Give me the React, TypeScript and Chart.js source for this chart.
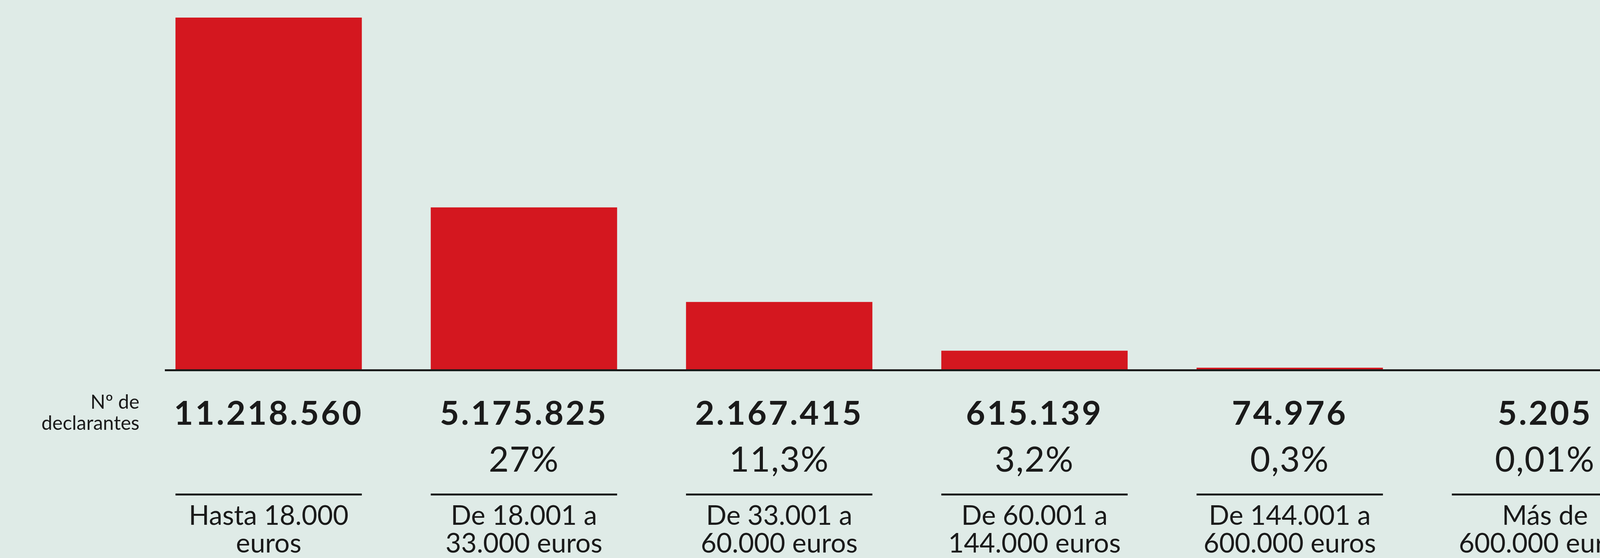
import React, { useEffect, useRef } from "react";
import { Chart, registerables } from "chart.js";

Chart.register(...registerables);

const categories: string[][] = [
  ["Hasta 18.000", "euros"],
  ["De 18.001 a", "33.000 euros"],
  ["De 33.001 a", "60.000 euros"],
  ["De 60.001 a", "144.000 euros"],
  ["De 144.001 a", "600.000 euros"],
  ["Más de", "600.000 euros"],
];
const declarantes: number[] = [11218560, 5175825, 2167415, 615139, 74976, 5205];
const countLabels: string[] = ["11.218.560", "5.175.825", "2.167.415", "615.139", "74.976", "5.205"];
const percentLabels: string[] = ["", "27%", "11,3%", "3,2%", "0,3%", "0,01%"];
const rowLabel: string[] = ["Nº de", "declarantes"];

const BG = "#dfebe7";
const RED = "#d4171f";
const INK = "#1a1a1a";

const annotate = {
  id: "annotate",
  afterDraw(chart: any) {
    const ctx = chart.ctx as CanvasRenderingContext2D;
    const xs = chart.scales.x;
    const ys = chart.scales.y;
    const meta = chart.getDatasetMeta(0);
    const y0 = ys.getPixelForValue(0);
    ctx.save();
    ctx.fillStyle = INK;
    ctx.fillRect(422, y0 - 2, chart.width - 422, 5);
    ctx.font = "50px Lato";
    ctx.textAlign = "right";
    ctx.textBaseline = "alphabetic";
    ctx.fillText(rowLabel[0], 357, 1046);
    ctx.fillText(rowLabel[1], 357, 1100);
    for (let i = 0; i < declarantes.length; i++) {
      const x = xs.getPixelForValue(i);
      const bar = meta.data[i] as any;
      const half = bar.width / 2;
      ctx.textAlign = "center";
      (ctx as any).letterSpacing = "5px";
      ctx.font = "bold 85px Lato";
      ctx.fillText(countLabels[i], x, 1087);
      (ctx as any).letterSpacing = "2px";
      ctx.font = "89px Lato";
      if (percentLabels[i]) ctx.fillText(percentLabels[i], x, 1207);
      (ctx as any).letterSpacing = "0px";
      ctx.fillRect(x - half, 1263, half * 2, 5);
    }
    ctx.restore();
  },
};

export default function App() {
  const ref = useRef<HTMLCanvasElement | null>(null);
  useEffect(() => {
    document.body.style.margin = "0";
    document.body.style.overflow = "hidden";
    document.body.style.background = BG;
    if (!ref.current) return;
    const chart = new Chart(ref.current, {
      type: "bar",
      data: {
        labels: categories,
        datasets: [
          {
            data: declarantes,
            backgroundColor: RED,
            borderWidth: 0,
            categoryPercentage: 1,
            barPercentage: 0.73,
          },
        ],
      },
      options: {
        animation: false,
        responsive: false,
        devicePixelRatio: 1,
        layout: { padding: { top: 45, left: 361, right: 8, bottom: 0 } },
        plugins: { legend: { display: false }, tooltip: { enabled: false } },
        scales: {
          x: {
            grid: { display: false, drawTicks: false },
            border: { display: false },
            ticks: {
              color: INK,
              font: { family: "Lato", size: 69, lineHeight: 1.03 },
              padding: 338,
              maxRotation: 0,
              autoSkip: false,
            },
            afterFit(scale: any) {
              scale.height = 481;
              scale.paddingLeft = 0;
              scale.paddingRight = 0;
            },
          },
          y: {
            display: false,
            min: 0,
            max: 11218560,
          },
        },
      },
      plugins: [annotate],
    });
    return () => chart.destroy();
  }, []);
  return (
    <div style={{ width: 4193, height: 1428, overflow: "hidden", background: BG }}>
      <canvas ref={ref} width={4290} height={1428} style={{ width: 4290, height: 1428, display: "block" }} />
    </div>
  );
}
